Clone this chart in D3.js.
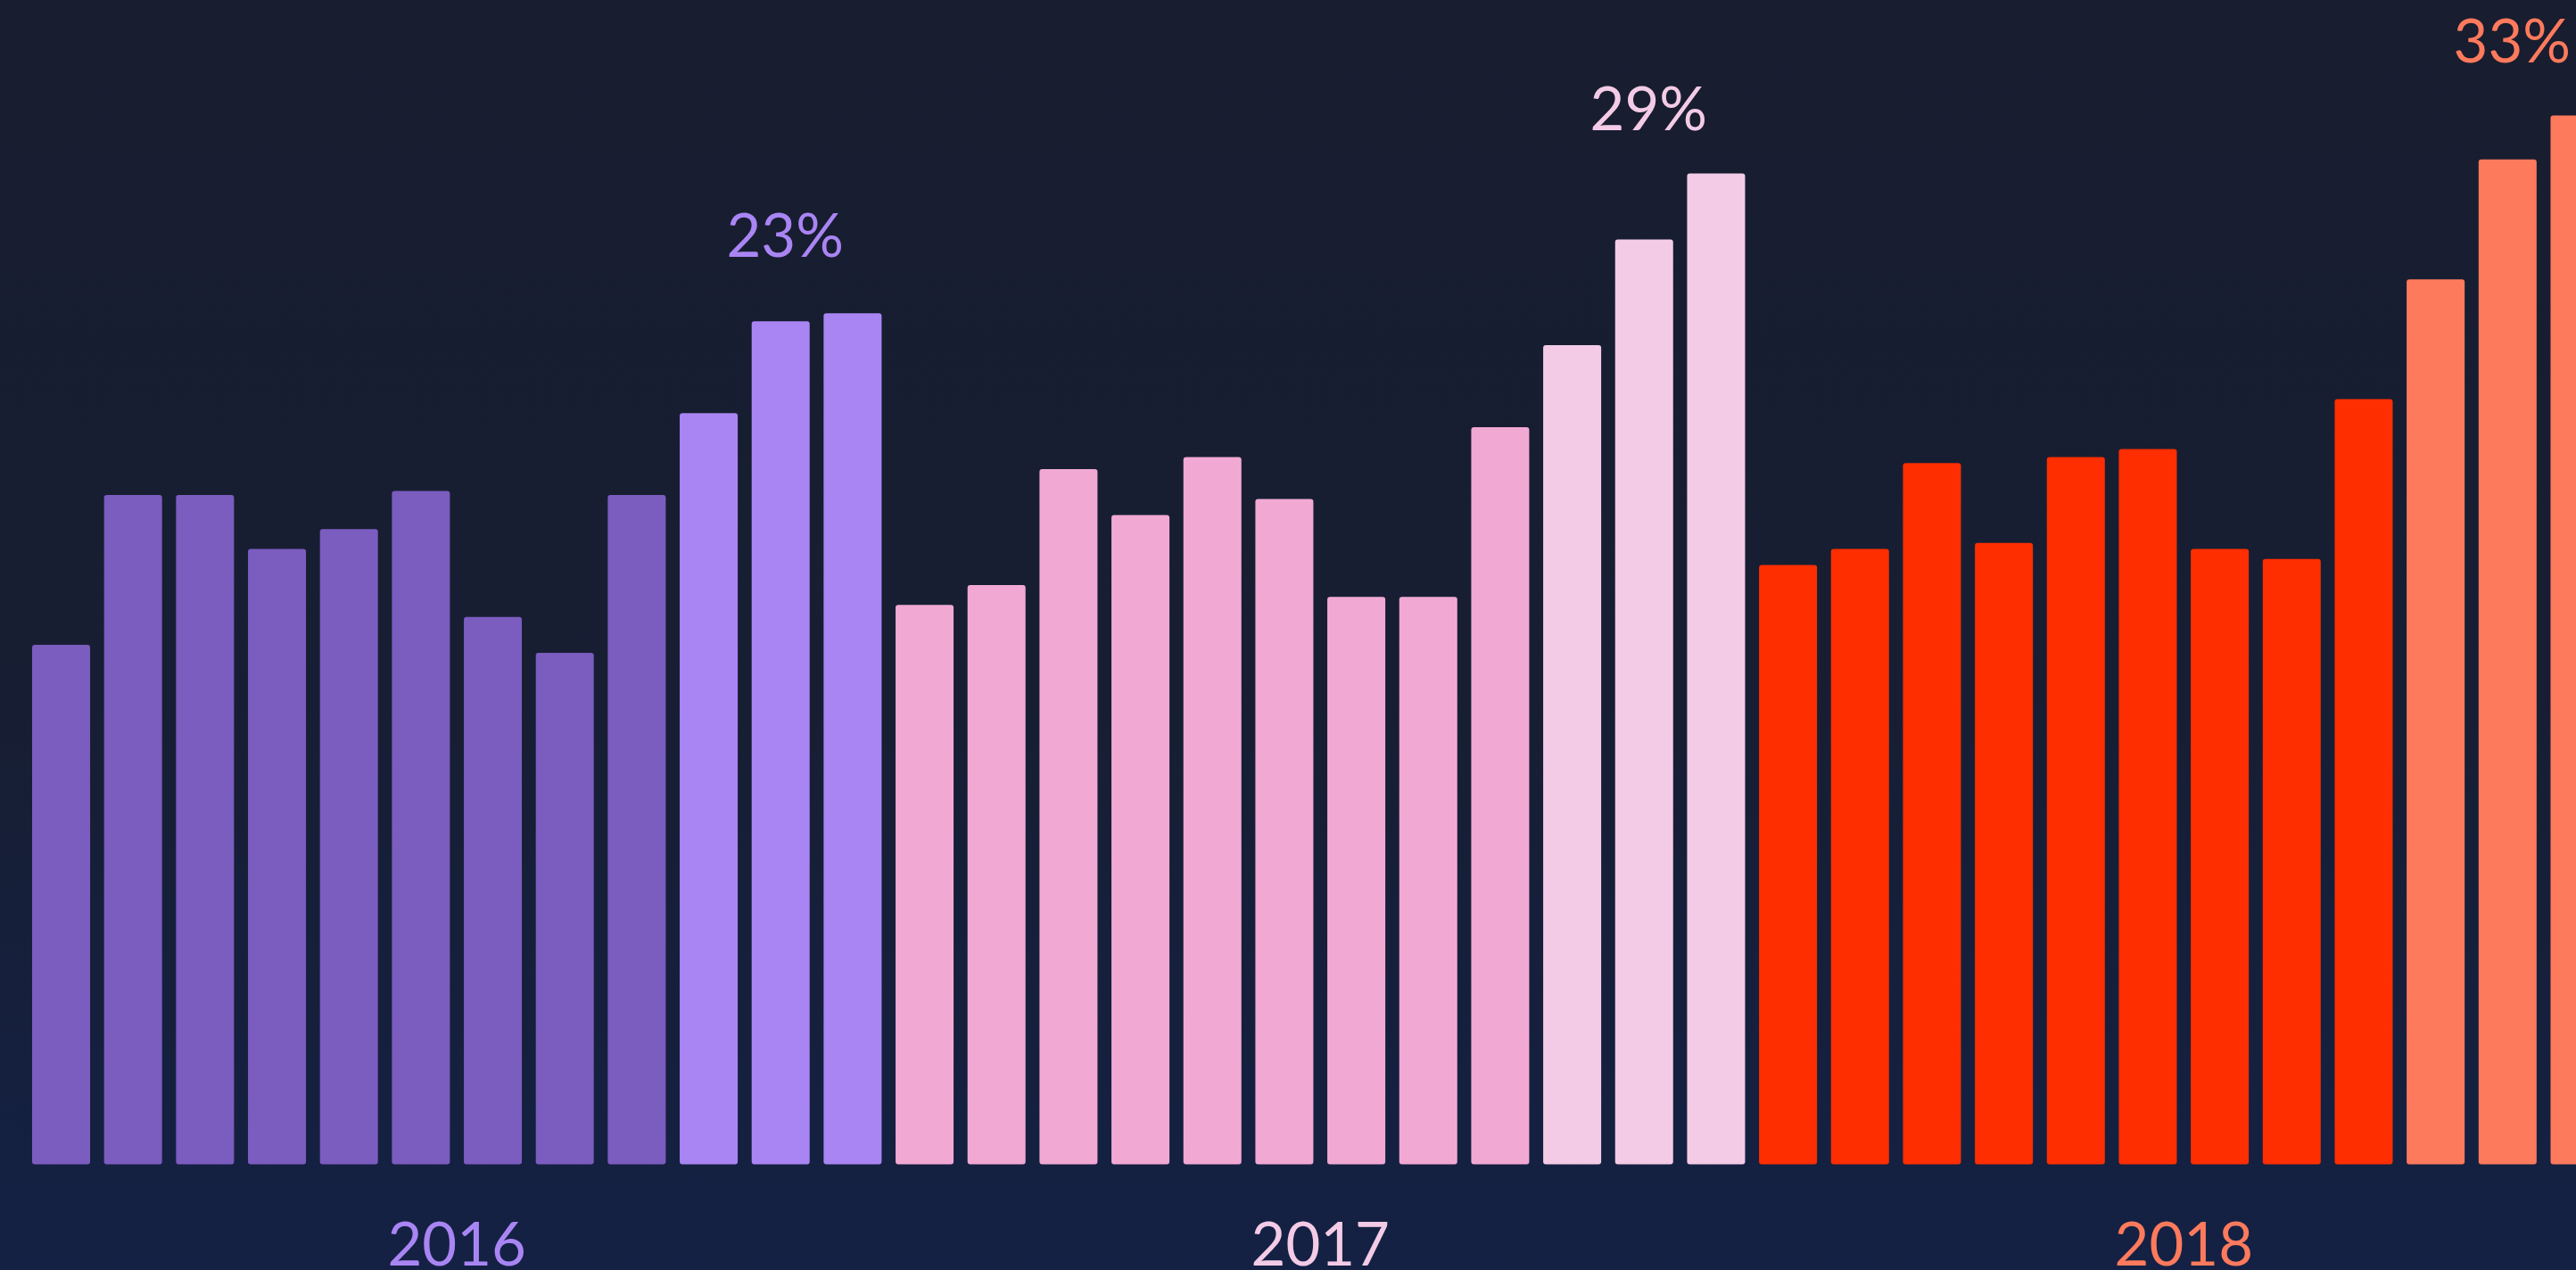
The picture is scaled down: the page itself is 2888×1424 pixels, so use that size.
<!DOCTYPE html>
<html>
<head>
<meta charset="utf-8">
<script src="https://cdn.jsdelivr.net/npm/d3@7"></script>
<style>
  html, body { margin: 0; padding: 0; background: #161f3a; overflow: hidden; }
  svg { display: block; }
  text { font-family: Lato, "Noto Sans", sans-serif; font-weight: 400; }
</style>
</head>
<body>
<svg id="chart"></svg>
<script>
// monthly values, share in % (axis starts at -20)
const years = ['2016', '2017', '2018'];
const values2016 = [6.0, 13.5, 13.5, 10.8, 11.8, 13.7, 7.4, 5.6, 13.5, 17.6, 22.2, 22.6];
const values2017 = [8.0, 9.0, 14.8, 12.5, 15.4, 13.3, 8.4, 8.4, 16.9, 21.0, 26.3, 29.6];
const values2018 = [10.0, 10.8, 15.1, 11.1, 15.4, 15.8, 10.8, 10.3, 18.3, 24.3, 30.3, 32.5];
const peakLabels = ['23%', '29%', '33%'];
const highlightMonths = [9, 10, 11];   // Oct - Dec

// colours per year: [base, highlight]
const palette = {
    '2016': ['#7b5cbf', '#a985f4'],
    '2017': ['#f1a9d4', '#f4cbe6'],
    '2018': ['#fe2e00', '#fe7a5d']
};

// gap between the peak label baseline and the top of the tallest bar
const peakLabelGap = [63, 48, 60];

const width = 2888,
    height = 1424;

let svg = d3.select('#chart')
    .attr('width', width)
    .attr('height', height);

// background gradient
let defs = svg.append('defs');
let grad = defs.append('linearGradient')
    .attr('id', 'bg')
    .attr('x1', 0).attr('y1', 0)
    .attr('x2', 0).attr('y2', 1);
grad.append('stop').attr('offset', '0%').attr('stop-color', '#181d2f');
grad.append('stop').attr('offset', '55%').attr('stop-color', '#171e33');
grad.append('stop').attr('offset', '100%').attr('stop-color', '#142144');

svg.append('rect')
    .attr('width', width)
    .attr('height', height)
    .attr('fill', 'url(#bg)');

let series = [values2016, values2017, values2018];
let data = [];
years.forEach((yr, yi) => {
    series[yi].forEach((v, m) => {
        data.push({
            id: yr + '-' + (m + 1),
            year: yr,
            month: m,
            value: v,
            hl: highlightMonths.indexOf(m) > -1
        });
    });
});

let x = d3.scaleBand()
    .domain(data.map(d => d.id))
    .range([36, 2924.5])
    .paddingInner(0.194)
    .paddingOuter(0);

let y = d3.scaleLinear()
    .domain([-20, 33])
    .range([1305.5, 118.3]);

// bars
svg.append('g')
    .attr('class', 'bars')
    .selectAll('rect')
    .data(data)
    .enter().append('rect')
    .attr('x', d => x(d.id))
    .attr('y', d => y(d.value))
    .attr('width', x.bandwidth())
    .attr('height', d => y(-20) - y(d.value))
    .attr('rx', 3)
    .attr('ry', 3)
    .attr('fill', d => palette[d.year][d.hl ? 1 : 0]);

// peak labels, centred over the highlighted quarter
let peaks = years.map((yr, yi) => {
    let hlData = data.filter(d => d.year == yr && d.hl);
    let mid = hlData[1];
    return {
        year: yr,
        text: peakLabels[yi],
        cx: x(mid.id) + x.bandwidth() / 2,
        top: y(d3.max(hlData, d => d.value)) - peakLabelGap[yi]
    };
});

svg.append('g')
    .attr('class', 'peaks')
    .selectAll('text')
    .data(peaks)
    .enter().append('text')
    .attr('x', d => d.cx + 5)
    .attr('y', d => d.top)
    .attr('text-anchor', 'middle')
    .attr('font-size', 67)
    .attr('fill', d => palette[d.year][1])
    .text(d => d.text);

// year labels, centred under each year's twelve bars
svg.append('g')
    .attr('class', 'years')
    .selectAll('text')
    .data(years)
    .enter().append('text')
    .attr('x', yr => {
        let ids = data.filter(d => d.year == yr).map(d => d.id);
        return (x(ids[0]) + x(ids[ids.length - 1]) + x.bandwidth()) / 2;
    })
    .attr('y', 1419)
    .attr('text-anchor', 'middle')
    .attr('font-size', 67)
    .attr('fill', d => palette[d][1])
    .text(d => d);
</script>
</body>
</html>
